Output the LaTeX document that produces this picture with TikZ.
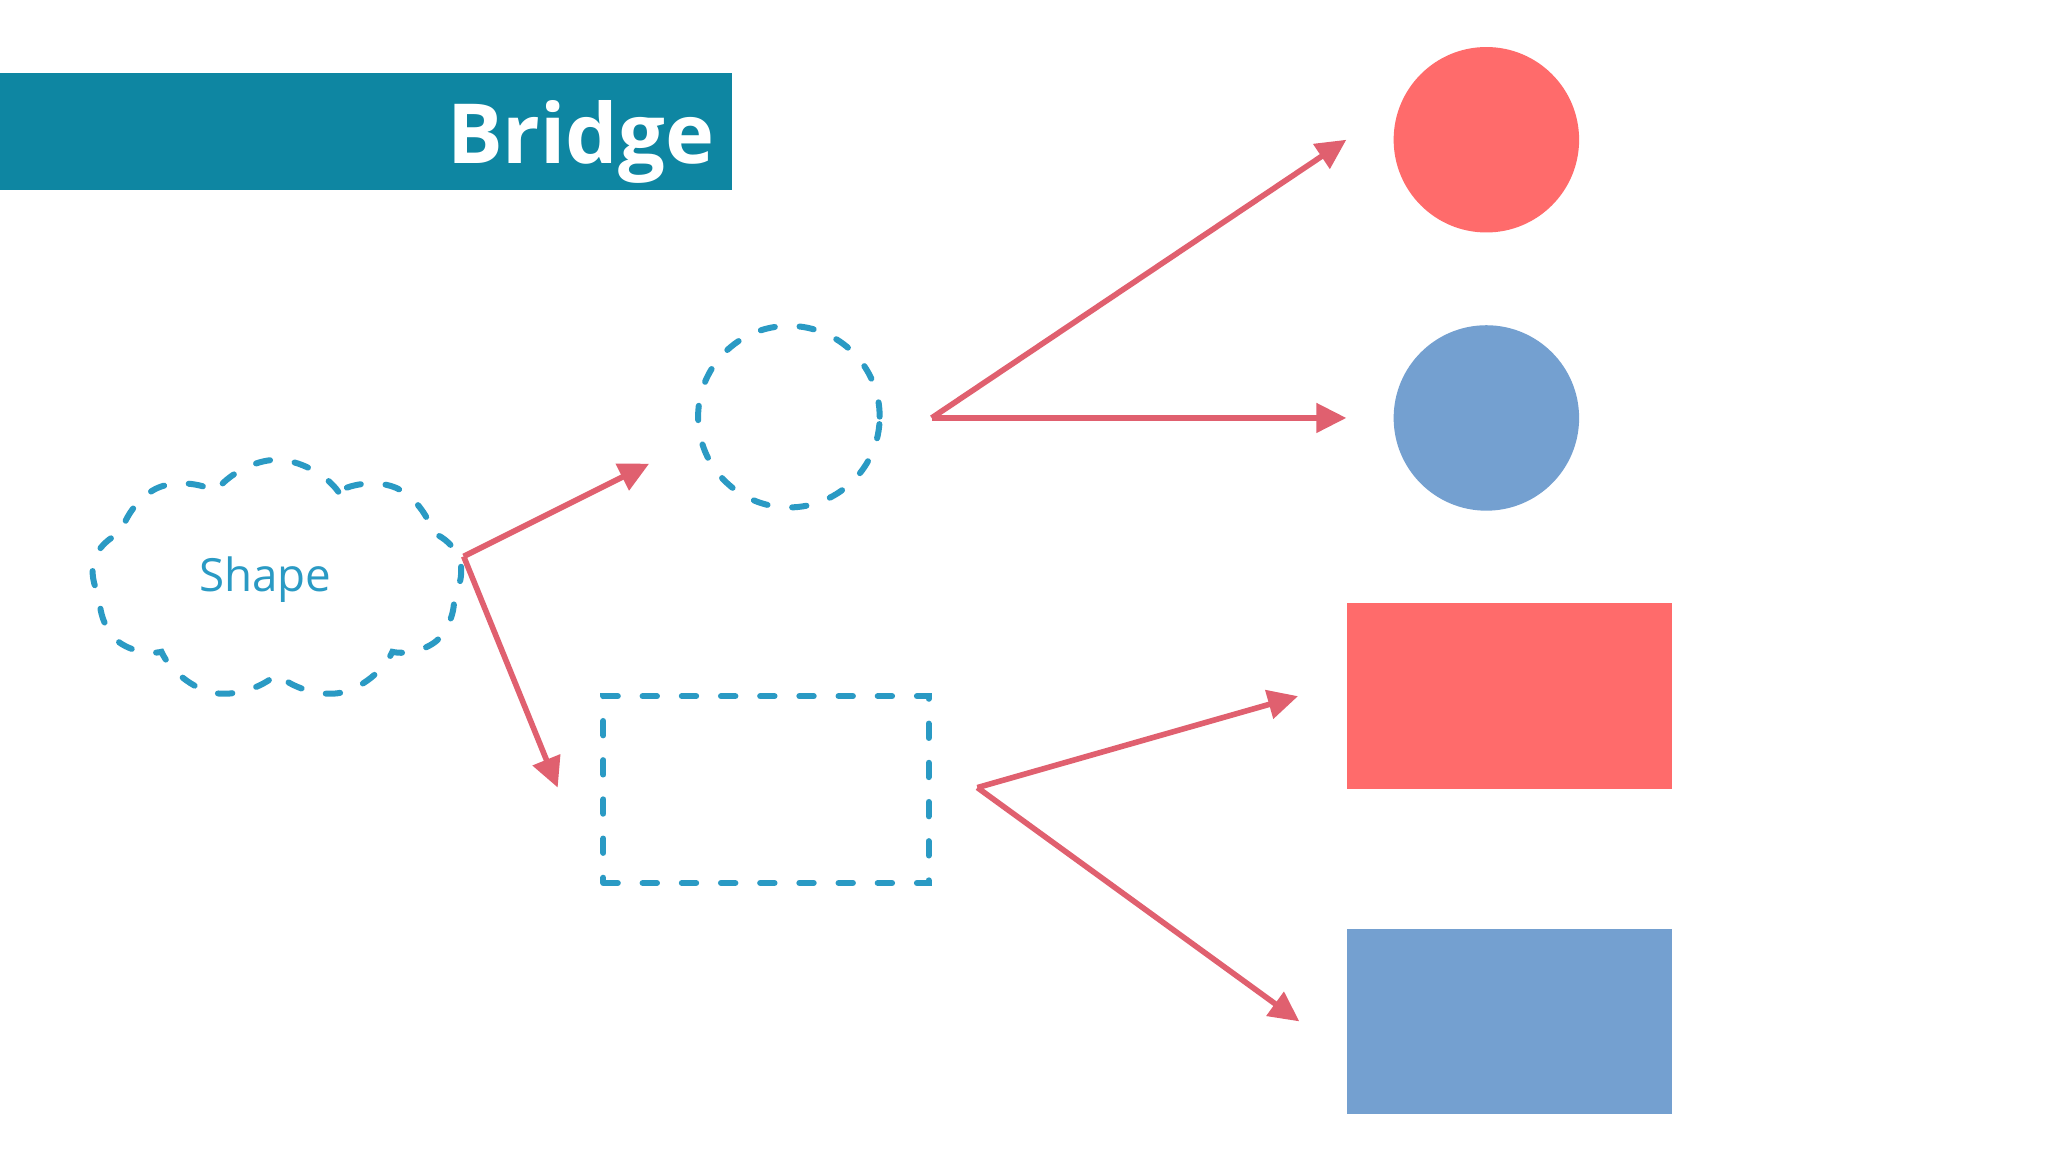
\documentclass[tikz,border=0pt]{standalone}
\usepackage{fontspec}
\setmainfont{Open Sans}
\usetikzlibrary{arrows.meta,shapes.symbols}
\definecolor{barteal}{HTML}{0E86A2}
\definecolor{dblue}{HTML}{2A9AC4}
\definecolor{arrred}{HTML}{E0606F}
\definecolor{shred}{HTML}{FF6B6B}
\definecolor{shblue}{HTML}{74A0D0}
\begin{document}
\begin{tikzpicture}[x=1pt,y=-1pt,
  dashblue/.style={draw=dblue, line width=4.6pt, line cap=round, dash pattern=on 11pt off 19pt},
  arr/.style={draw=arrred, line width=4.3pt, -{Triangle[length=23pt,width=22pt]}},
  solidcirc/.style={circle, minimum size=142pt, inner sep=0pt, draw=none},
  solidrect/.style={rectangle, minimum width=249pt, minimum height=142pt, inner sep=0pt, draw=none}]
\useasboundingbox (0,0) rectangle (1568,882);
\fill[white] (0,0) rectangle (1568,882);
% title bar
\node[fill=barteal, minimum width=560pt, minimum height=89pt, anchor=north west, inner sep=0pt] (bar) at (0,56) {};
\node[anchor=base east, inner sep=0pt, text=white, font=\fontsize{63.5}{63.5}\selectfont\bfseries] (title) at (547,125) {Bridge};
% abstraction
\node[cloud, cloud puffs=9, cloud puff arc=110, aspect=1.55, minimum width=284pt, minimum height=184pt, inner sep=0pt, dashblue, text=dblue, font=\fontsize{35}{35}\selectfont] (cloud) at (212,444) {Shape\hspace*{18pt}};
% dashed implementations
\node[circle, minimum size=139pt, inner sep=0pt, dashblue] (dcirc) at (604,319) {};
\node[rectangle, minimum width=249pt, minimum height=143pt, inner sep=0pt, dashblue] (drect) at (586.5,604.5) {};
% concrete shapes
\node[solidcirc, fill=shred] (rc) at (1138,107) {};
\node[solidcirc, fill=shblue] (bc) at (1138,320) {};
\node[solidrect, fill=shred] (rr) at (1155.5,533) {};
\node[solidrect, fill=shblue] (br) at (1155.5,782) {};
% arrow ends
\coordinate (cs) at (355,426);
\coordinate (t1) at (497,355);
\coordinate (t2) at (427,603);
% connectors
\draw[arr] (cs) -- (t1);
\draw[arr] (cs) -- (t2);
\draw[arr] ([xshift=37.5pt,yshift=-1pt]dcirc.east) -- ([xshift=-36pt]rc.west);
\draw[arr] ([xshift=37.5pt,yshift=-1pt]dcirc.east) -- ([xshift=-36pt]bc.west);
\draw[arr] ([xshift=35pt,yshift=1.5pt]drect.east) -- ([xshift=-37pt]rr.west);
\draw[arr] ([xshift=35pt,yshift=1.5pt]drect.east) -- ([xshift=-36pt]br.west);
\end{tikzpicture}
\end{document}
